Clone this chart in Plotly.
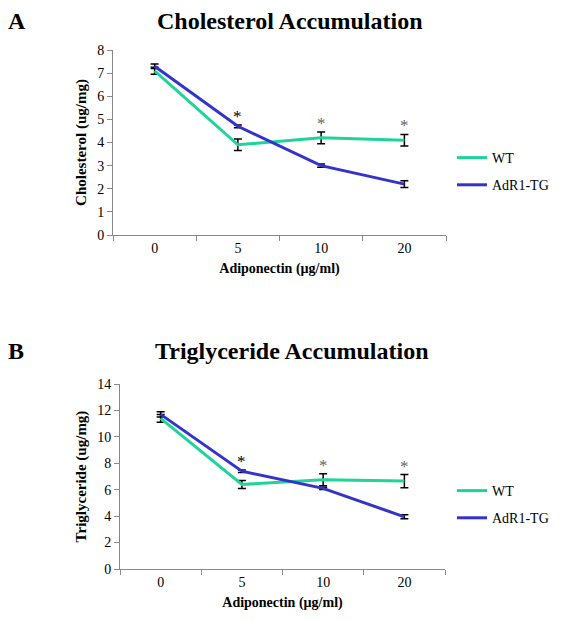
import plotly.graph_objects as go

doses = ["0", "5", "10", "20"]

chol_wt = [7.1, 3.9, 4.2, 4.1]
chol_wt_err = [0.15, 0.25, 0.25, 0.25]
chol_tg = [7.3, 4.7, 3.0, 2.2]
chol_tg_err = [0.1, 0.06, 0.07, 0.15]

tri_wt = [11.4, 6.4, 6.75, 6.65]
tri_wt_err = [0.3, 0.3, 0.45, 0.5]
tri_tg = [11.7, 7.4, 6.1, 3.95]
tri_tg_err = [0.2, 0.1, 0.08, 0.15]

significant = [False, True, True, True]

WT_COLOR = "#1fd49a"
TG_COLOR = "#3333cc"
FONT = "Liberation Serif"

# page offset compensation (browser body margin)
OFF = 8
W, H = 561 - OFF, 621 - OFF


def px(x):
    return (x - OFF) / W


def py(y):
    return 1 - (y - OFF) / H


fig = go.Figure()


def add_panel(wt, wt_err, tg, tg_err, xa, ya, legend):
    fig.add_trace(go.Scatter(
        x=doses, y=wt, name="WT", mode="lines",
        line=dict(color=WT_COLOR, width=3),
        error_y=dict(type="data", array=wt_err, color="black", thickness=1.5, width=4),
        xaxis=xa, yaxis=ya, legend=legend, legendgroup=legend + "wt"))
    fig.add_trace(go.Scatter(
        x=doses, y=tg, name="AdR1-TG", mode="lines",
        line=dict(color=TG_COLOR, width=3),
        error_y=dict(type="data", array=tg_err, color="black", thickness=1.5, width=4),
        xaxis=xa, yaxis=ya, legend=legend, legendgroup=legend + "tg"))
    for i, d in enumerate(doses):
        if significant[i]:
            top = max(wt[i] + wt_err[i], tg[i] + tg_err[i])
            fig.add_annotation(x=i, y=top, xref=xa, yref=ya, text="*",
                               showarrow=False, yanchor="bottom", yshift=-3,
                               font=dict(family=FONT, size=17,
                                         color="black" if i == 1 else "#666"))


add_panel(chol_wt, chol_wt_err, chol_tg, chol_tg_err, "x", "y", "legend")
add_panel(tri_wt, tri_wt_err, tri_tg, tri_tg_err, "x2", "y2", "legend2")

axis_common = dict(showline=True, linecolor="#888", linewidth=1,
                   ticks="outside", tickcolor="#888", ticklen=5,
                   showgrid=False, zeroline=False,
                   tickfont=dict(family=FONT, size=14, color="black"))

fig.update_layout(
    width=W, height=H,
    margin=dict(l=0, r=0, t=0, b=0, autoexpand=False),
    paper_bgcolor="white", plot_bgcolor="white",
    font=dict(family=FONT, color="black"),
    xaxis=dict(domain=[px(113), px(446)], anchor="y", type="category",
               tickson="boundaries", range=[-0.5, 3.5],
               title=dict(text="<b>Adiponectin (µg/ml)</b>", font=dict(family=FONT, size=14), standoff=8),
               **axis_common),
    yaxis=dict(domain=[py(235), py(50)], anchor="x", range=[0, 8], dtick=1,
               title=dict(text="<b>Cholesterol (ug/mg)</b>", font=dict(family=FONT, size=15), standoff=6),
               **axis_common),
    xaxis2=dict(domain=[px(120), px(445)], anchor="y2", type="category",
                tickson="boundaries", range=[-0.5, 3.5],
                title=dict(text="<b>Adiponectin (µg/ml)</b>", font=dict(family=FONT, size=14), standoff=8),
                **axis_common),
    yaxis2=dict(domain=[py(569), py(384)], anchor="x2", range=[0, 14], dtick=2,
                title=dict(text="<b>Triglyceride (ug/mg)</b>", font=dict(family=FONT, size=15), standoff=6),
                **axis_common),
    legend=dict(x=px(452), y=py(142), xanchor="left", yanchor="top",
                font=dict(family=FONT, size=14), tracegroupgap=6,
                bgcolor="rgba(0,0,0,0)", itemwidth=30),
    legend2=dict(x=px(452), y=py(475), xanchor="left", yanchor="top",
                 font=dict(family=FONT, size=14), tracegroupgap=6,
                 bgcolor="rgba(0,0,0,0)", itemwidth=30),
)

fig.add_annotation(text="<b>A</b>", x=px(6), y=py(21), xref="paper", yref="paper",
                   showarrow=False, xanchor="left", yanchor="middle",
                   font=dict(family=FONT, size=24))
fig.add_annotation(text="<b>Cholesterol Accumulation</b>", x=px(290), y=py(21),
                   xref="paper", yref="paper", showarrow=False, yanchor="middle",
                   font=dict(family=FONT, size=24))
fig.add_annotation(text="<b>B</b>", x=px(6), y=py(351), xref="paper", yref="paper",
                   showarrow=False, xanchor="left", yanchor="middle",
                   font=dict(family=FONT, size=24))
fig.add_annotation(text="<b>Triglyceride Accumulation</b>", x=px(292), y=py(351),
                   xref="paper", yref="paper", showarrow=False, yanchor="middle",
                   font=dict(family=FONT, size=24))

fig.write_html("out.html")
